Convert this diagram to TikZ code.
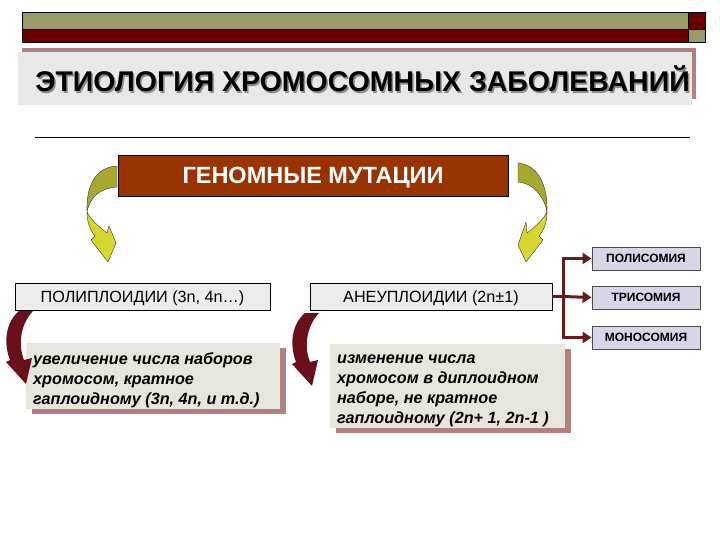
\documentclass[tikz,border=0pt]{standalone}
\usepackage{fontspec}
\setmainfont{Liberation Sans}
\usetikzlibrary{arrows.meta}
\definecolor{olivebar}{RGB}{155,155,105}
\definecolor{darkbar}{RGB}{107,0,0}
\definecolor{titlefill}{RGB}{232,232,232}
\definecolor{pinkshadow}{RGB}{178,128,128}
\definecolor{genfill}{RGB}{153,51,0}
\definecolor{grayfill}{RGB}{236,236,236}
\definecolor{lavfill}{RGB}{214,214,230}
\definecolor{connred}{RGB}{107,26,26}
\definecolor{beige}{RGB}{230,230,220}
\definecolor{arrred}{RGB}{107,15,26}
\definecolor{arrolive}{RGB}{168,168,48}
\definecolor{arryellow}{RGB}{214,214,46}
\begin{document}
\begin{tikzpicture}[x=1pt,y=-1pt,
  rect/.style={inner sep=0pt,outer sep=0pt,anchor=north west},
  framed/.style={rect,draw=black,line width=0.8pt},
  grayb/.style={draw=black,line width=0.8pt,fill=grayfill,inner sep=0pt,minimum height=27pt,text height=11.6pt,text depth=0pt,font=\fontsize{16.2}{18}\selectfont},
  smallb/.style={draw=black!70,line width=0.8pt,fill=lavfill,inner sep=0pt,minimum width=108pt,minimum height=23pt,text height=8.6pt,text depth=0pt,font=\fontsize{12}{13}\selectfont\bfseries},
  conn/.style={draw=connred,line width=3pt,-{Triangle[length=9pt,width=11pt]}},
  bodytext/.style={anchor=north west,inner sep=0pt,align=left,font=\fontsize{16.2}{20}\selectfont\bfseries\itshape},
  ribbon/.style={draw=black!80,line width=0.4pt},
  redarrow/.style={fill=arrred}]
\useasboundingbox (0,0) rectangle (720,540);
\fill[white] (0,0) rectangle (720,540);

% top decorative bar
\node[framed,fill=olivebar,minimum width=666pt,minimum height=17pt] (barA) at (22,12) {};
\node[framed,fill=darkbar,minimum width=666pt,minimum height=13pt] (barB) at (22,29) {};
\node[framed,fill=darkbar,minimum width=17pt,minimum height=17pt] (sqA) at (688,12) {};
\node[framed,fill=olivebar,minimum width=17pt,minimum height=13pt] (sqB) at (688,29) {};

% title
\node[rect,fill=pinkshadow,minimum width=674pt,minimum height=51pt] (titleshadow) at (22,48) {};
\node[rect,fill=titlefill,minimum width=674pt,minimum height=53pt] (titlebox) at (18,52) {};
\node[text=black!45,font=\fontsize{28.5}{30}\selectfont\bfseries] (titleS) at (364,80.5) {ЭТИОЛОГИЯ ХРОМОСОМНЫХ ЗАБОЛЕВАНИЙ};
\node[text=black,font=\fontsize{28.5}{30}\selectfont\bfseries] (title) at (362.5,79) {ЭТИОЛОГИЯ ХРОМОСОМНЫХ ЗАБОЛЕВАНИЙ};

% separator line
\coordinate (sepL) at (35,137);
\coordinate (sepR) at (690,137);
\draw[line width=0.8pt] (sepL) -- (sepR);

% genomic mutations
\node[draw=black,line width=0.8pt,fill=genfill,minimum width=390pt,minimum height=41pt,inner sep=0pt,text height=16.8pt,text depth=0pt,text=white,font=\fontsize{23.5}{25}\selectfont\bfseries] (gen) at (313,175.5) {ГЕНОМНЫЕ МУТАЦИИ};

% polyploidy / aneuploidy
\node[grayb,minimum width=255pt] (poly) at (142.5,296.5) {ПОЛИПЛОИДИИ (3n, 4n…)};
\node[grayb,minimum width=242pt] (aneu) at (431,296.5) {АНЕУПЛОИДИИ (2n±1)};

% right boxes
\node[smallb] (polis) at (646,258.5) {ПОЛИСОМИЯ};
\node[smallb] (tris) at (646,297.5) {ТРИСОМИЯ};
\node[smallb] (mono) at (646,337.5) {МОНОСОМИЯ};

\coordinate (junc) at (563,296.5);
\draw[draw=connred,line width=3pt] (aneu.east) -- (junc);
\draw[conn] (junc) |- (polis.west);
\draw[conn] (junc) -- (tris.west);
\draw[conn] (junc) |- (mono.west);

% description boxes
\node[rect,fill=pinkshadow,minimum width=254pt,minimum height=66pt] (leftshadow) at (32,348) {};
\node[rect,fill=beige,minimum width=254pt,minimum height=66pt] (leftbox) at (26,343) {};
\node[bodytext] (lefttext) at (33,350) {\strut увеличение числа наборов\\хромосом, кратное\\гаплоидному (3n, 4n, и т.д.)};

\node[rect,fill=pinkshadow,minimum width=235pt,minimum height=84pt] (midshadow) at (336,349) {};
\node[rect,fill=beige,minimum width=235pt,minimum height=84pt] (midbox) at (330,344) {};
\node[bodytext] (midtext) at (337,349) {\strut изменение числа\\хромосом в диплоидном\\наборе, не кратное\\гаплоидному (2n+ 1, 2n-1 )};

% yellow curved arrows
\fill[arrolive,ribbon] (117,166) .. controls (96,167) and (86,185) .. (87,212)
  .. controls (90,196) and (101,188) .. (117,187) -- cycle;
\fill[arryellow,ribbon] (87,212) .. controls (87,222) and (90,230) .. (95,236)
  -- (91,240) -- (108,262) -- (116,243) -- (109,226) -- (107,233)
  .. controls (98,226) and (91,220) .. (87,212) -- cycle;

\fill[arrolive,ribbon] (518,163) .. controls (538,165) and (548,185) .. (547,212)
  .. controls (544,196) and (533,183) .. (518,182) -- cycle;
\fill[arryellow,ribbon] (547,212) .. controls (547,222) and (544,230) .. (539,236)
  -- (543,240) -- (526,262) -- (518,245) -- (526,222) -- (527,233)
  .. controls (536,226) and (543,220) .. (547,212) -- cycle;

% dark red curved arrows
\fill[redarrow] (19,311) .. controls (6,322) and (3,342) .. (10,360) -- (6,362)
  -- (26,384) -- (32,358) -- (24,360) .. controls (18,345) and (20,325) .. (33,311) -- cycle;
\begin{scope}[shift={(286,2)}]
\fill[redarrow] (19,311) .. controls (6,322) and (3,342) .. (10,360) -- (6,362)
  -- (26,384) -- (32,358) -- (24,360) .. controls (18,345) and (20,325) .. (33,311) -- cycle;
\end{scope}
\end{tikzpicture}
\end{document}
